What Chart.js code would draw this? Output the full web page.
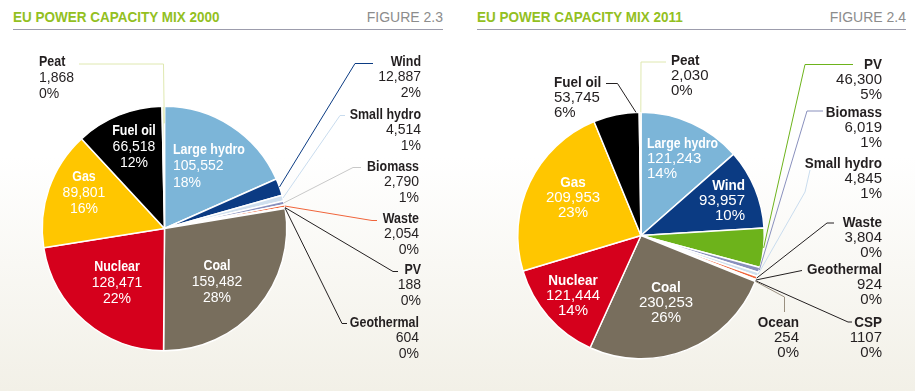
<!DOCTYPE html>
<html>
<head>
<meta charset="utf-8">
<script src="https://cdn.jsdelivr.net/npm/chart.js@4.4.0/dist/chart.umd.min.js"></script>
<style>
body { margin:0; width:915px; height:391px; overflow:hidden; position:relative;
  background: linear-gradient(to bottom, #ffffff 0%, #ffffff 40%, #f2f0e7 100%); }
.title { position:absolute; top:8px; line-height:20px; font:bold 15px 'Liberation Sans', sans-serif; color:#93c01f;
  transform: scaleX(0.9); transform-origin: left center; white-space:nowrap; }
.fig { position:absolute; top:9px; line-height:20px; font:14px 'Liberation Sans', sans-serif; color:#8c8c8c; text-align:right; }
.rule { position:absolute; top:29px; height:1px; background:#9c9cac; }
canvas { position:absolute; left:0; top:0; }
</style>
</head>
<body>
<div class="title" style="left:13px">EU POWER CAPACITY MIX 2000</div>
<div class="fig" style="left:243px;width:200px">FIGURE 2.3</div>
<div class="rule" style="left:13px;width:430px"></div>
<div class="title" style="left:477px">EU POWER CAPACITY MIX 2011</div>
<div class="fig" style="left:706px;width:200px">FIGURE 2.4</div>
<div class="rule" style="left:477px;width:429px"></div>
<canvas id="mix2000" width="915" height="391"></canvas>
<canvas id="mix2011" width="915" height="391"></canvas>
<script>
// 2000 mix (MW), clockwise from 12 o'clock
const labels2000 = ['Large hydro', 'Wind', 'Small hydro', 'Biomass', 'Waste', 'PV', 'Geothermal', 'Coal', 'Nuclear', 'Gas', 'Fuel oil', 'Peat'];
const values2000 = [105552, 12887, 4514, 2790, 2054, 188, 604, 159482, 128471, 89801, 66518, 1868];
const pct2000 = ['18%', '2%', '1%', '1%', '0%', '0%', '0%', '28%', '22%', '16%', '12%', '0%'];

// 2011 mix (MW)
const labels2011 = ['Large hydro', 'Wind', 'PV', 'Biomass', 'Small hydro', 'Waste', 'Geothermal', 'CSP', 'Ocean', 'Coal', 'Nuclear', 'Gas', 'Fuel oil', 'Peat'];
const values2011 = [121243, 93957, 46300, 6019, 4845, 3804, 924, 1107, 254, 230253, 121444, 209953, 53745, 2030];
const pct2011 = ['14%', '10%', '5%', '1%', '1%', '0%', '0%', '0%', '0%', '26%', '14%', '23%', '6%', '0%'];

const colorOf = {
  'Large hydro': '#7cb5d8', 'Wind': '#0b3b83', 'Small hydro': '#cfdfee', 'Biomass': '#8990bd',
  'Waste': '#f0643a', 'PV': '#6db31b', 'Geothermal': '#b39b74', 'CSP': '#e3b23c', 'Ocean': '#4f86b8',
  'Coal': '#786e5d', 'Nuclear': '#d5001c', 'Gas': '#ffc600', 'Fuel oil': '#000000', 'Peat': '#e4ebbd'
};

const DARK = '#231f20', WHITE = '#ffffff';

function fmt(v, name) {
  if (name === 'CSP') return String(v);
  return String(v).replace(/\B(?=(\d{3})+(?!\d))/g, ',');
}

// label placement + leader lines (text anchors and elbows; line ends come from the arcs)
const spots2000 = {
  'Peat':        { x: 39,  y: 62,  align: 'left',   color: DARK, lh: 16, line: [[79, 64], [163.5, 64]], lineColor: '#dfe8b0', at: 0.9, depth: 0.86 },
  'Fuel oil':    { x: 134, y: 131, align: 'center', color: WHITE, lh: 16 },
  'Gas':         { x: 84,  y: 177, align: 'center', color: WHITE, lh: 16 },
  'Nuclear':     { x: 117, y: 267, align: 'center', color: WHITE, lh: 16 },
  'Coal':        { x: 217, y: 266, align: 'center', color: WHITE, lh: 16 },
  'Large hydro': { x: 173, y: 150, align: 'left',   color: WHITE, lh: 16.5 },
  'Wind':        { x: 421, y: 62,  align: 'right',  color: DARK, line: [[373, 63.5], [355, 63.5]], lineColor: '#0b3b83' },
  'Small hydro': { x: 421, y: 115, align: 'right',  color: DARK, line: [[345, 115.5], [340, 115.5]], lineColor: '#c9dcee' },
  'Biomass':     { x: 419, y: 167, align: 'right',  color: DARK, line: [[361, 167.5], [353, 167.5]], lineColor: '#c8c8c8' },
  'Waste':       { x: 419, y: 219, align: 'right',  color: DARK, line: [[377, 220.5], [372, 220.5]], lineColor: '#f0643a' },
  'PV':          { x: 421, y: 270, align: 'right',  color: DARK, line: [[398, 271.5], [393, 271.5]], lineColor: DARK },
  'Geothermal':  { x: 419, y: 323, align: 'right',  color: DARK, line: [[347, 323.5], [342, 323.5]], lineColor: DARK }
};

const spots2011 = {
  'Peat':        { x: 671, y: 61,  align: 'left',   color: DARK, line: [[666, 62], [641, 62]], lineColor: '#dfe8b0', at: 0.9 },
  'Fuel oil':    { x: 554, y: 83,  align: 'left',   color: DARK, line: [[606, 83.5], [617.5, 83.5]], lineColor: DARK, at: 0.93 },
  'Large hydro': { x: 647, y: 144, align: 'left',   color: WHITE, sx: 0.82 },
  'Wind':        { x: 745, y: 186, align: 'right',  color: WHITE },
  'Gas':         { x: 573, y: 183, align: 'center', color: WHITE },
  'Nuclear':     { x: 573, y: 281, align: 'center', color: WHITE },
  'Coal':        { x: 666, y: 288, align: 'center', color: WHITE },
  'PV':          { x: 882, y: 65,  align: 'right',  color: DARK, line: [[853, 64.5], [805, 64.5]], lineColor: '#6db31b' },
  'Biomass':     { x: 882, y: 113, align: 'right',  color: DARK, line: [[823, 111], [807, 111]], lineColor: '#8990bd' },
  'Small hydro': { x: 882, y: 164, align: 'right',  color: DARK, line: [[810, 170], [805, 192]], lineColor: '#c9dcee' },
  'Waste':       { x: 882, y: 223, align: 'right',  color: DARK, line: [[834, 223], [827, 223]], lineColor: DARK },
  'Geothermal':  { x: 882, y: 270, align: 'right',  color: DARK, line: [[802, 270.5], [797, 271.5]], lineColor: DARK },
  'CSP':         { x: 882, y: 323, align: 'right',  color: DARK, line: [[852, 322], [848, 322]], lineColor: DARK },
  'Ocean':       { x: 799, y: 323, align: 'right',  color: DARK, line: [[784.5, 312], [784.5, 297]], lineColor: '#9a9080' }
};

const calloutPlugin = {
  id: 'callouts',
  afterDatasetsDraw(chart, args, opts) {
    const ctx = chart.ctx;
    const meta = chart.getDatasetMeta(0);
    const ds = chart.data.datasets[0];
    chart.data.labels.forEach((name, i) => {
      const s = opts.spots[name];
      if (!s) return;
      const arc = meta.data[i];
      if (s.line) {
        const t = s.at ?? 0.5;
        const a = arc.startAngle + (arc.endAngle - arc.startAngle) * t;
        const r = arc.outerRadius * (s.depth ?? 1);
        ctx.save();
        ctx.strokeStyle = s.lineColor;
        ctx.lineWidth = 1;
        ctx.beginPath();
        ctx.moveTo(s.line[0][0], s.line[0][1]);
        for (let k = 1; k < s.line.length; k++) ctx.lineTo(s.line[k][0], s.line[k][1]);
        ctx.lineTo(arc.x + Math.cos(a) * r, arc.y + Math.sin(a) * r);
        ctx.stroke();
        ctx.restore();
      }
      const lh = s.lh ?? opts.lh;
      const rows = [
        { text: name, font: "bold 15px 'Liberation Sans', sans-serif", sx: s.sx ?? opts.nameScale },
        { text: fmt(ds.data[i], name), font: opts.numSize + "px 'Liberation Sans', sans-serif", sx: 1 },
        { text: ds.pct[i], font: opts.numSize + "px 'Liberation Sans', sans-serif", sx: 1 }
      ];
      ctx.save();
      ctx.fillStyle = s.color;
      ctx.textAlign = s.align;
      ctx.textBaseline = 'middle';
      rows.forEach((row, k) => {
        ctx.save();
        ctx.font = row.font;
        ctx.translate(s.x, s.y + k * lh);
        ctx.scale(row.sx, 1);
        ctx.fillText(row.text, 0, 0);
        ctx.restore();
      });
      ctx.restore();
    });
  }
};

function makePie(id, labels, values, pct, pad, spots, sizes) {
  return new Chart(document.getElementById(id), {
    type: 'pie',
    data: {
      labels: labels,
      datasets: [{
        data: values,
        pct: pct,
        backgroundColor: labels.map(l => colorOf[l]),
        borderColor: '#ffffff',
        borderWidth: 1.5
      }]
    },
    options: {
      responsive: false,
      animation: false,
      events: [],
      layout: { padding: pad },
      plugins: {
        legend: { display: false },
        tooltip: { enabled: false },
        callouts: Object.assign({ spots: spots }, sizes)
      }
    },
    plugins: [calloutPlugin]
  });
}

makePie('mix2000', labels2000, values2000, pct2000,
  { left: 41.5, right: 627.5, top: 105.5, bottom: 39.5 }, spots2000,
  { nameScale: 0.83, numSize: 14, lh: 15.5 });

makePie('mix2011', labels2011, values2011, pct2011,
  { left: 517, right: 150, top: 111.5, bottom: 31.5 }, spots2011,
  { nameScale: 0.9, numSize: 15, lh: 15 });
</script>
</body>
</html>
